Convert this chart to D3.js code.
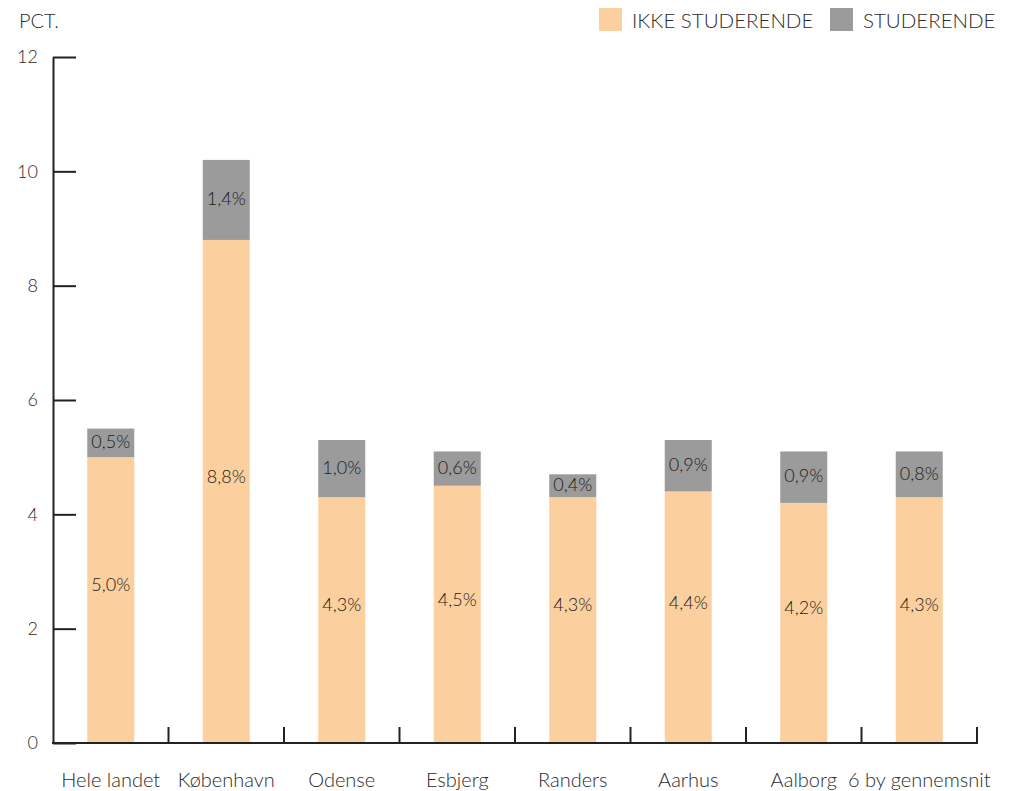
<!DOCTYPE html>
<html>
<head>
<meta charset="utf-8">
<script src="https://cdn.jsdelivr.net/npm/d3@7"></script>
<style>
  body { margin: 0; background: #fff; }
  text { font-family: Lato, "Open Sans", sans-serif; font-weight: 300; fill: #2b2b2b; }
</style>
</head>
<body>
<div id="main"></div>
<script>
var categories = ["Hele landet", "København", "Odense", "Esbjerg", "Randers", "Aarhus", "Aalborg", "6 by gennemsnit"];
var ikkeStuderende = [5.0, 8.8, 4.3, 4.5, 4.3, 4.4, 4.2, 4.3];
var studerende = [0.5, 1.4, 1.0, 0.6, 0.4, 0.9, 0.9, 0.8];
var yTicks = [0, 2, 4, 6, 8, 10, 12];
var seriesNames = ["IKKE STUDERENDE", "STUDERENDE"];
var colors = ["#fbd09e", "#9b9b9b"];

function fmt(v) { return v.toFixed(1).replace(".", ",") + "%"; }

var width = 1021, height = 791;
var svg = d3.select("#main").append("svg")
  .attr("width", width)
  .attr("height", height);//create canvas

var x = d3.scaleBand()
  .domain(categories)
  .range([53, 977])
  .padding(0);//band for each city
var barW = x.step() * 0.407;

var y = d3.scaleLinear()
  .domain([0, 12])
  .range([743, 57]);

// bars
var rows = categories.map(function(c, i) { return { cat: c, a: ikkeStuderende[i], b: studerende[i] }; });
var g = svg.append("g");
g.selectAll("rect.a").data(rows).enter().append("rect")
  .attr("class", "a")
  .attr("x", function(d) { return x(d.cat) + (x.step() - barW) / 2; })
  .attr("width", barW)
  .attr("y", function(d) { return y(d.a); })
  .attr("height", function(d) { return y(0) - y(d.a); })
  .attr("fill", colors[0]);
g.selectAll("rect.b").data(rows).enter().append("rect")
  .attr("class", "b")
  .attr("x", function(d) { return x(d.cat) + (x.step() - barW) / 2; })
  .attr("width", barW)
  .attr("y", function(d) { return y(d.a + d.b); })
  .attr("height", function(d) { return y(d.a) - y(d.a + d.b); })
  .attr("fill", colors[1]);

// value labels
g.selectAll("text.a").data(rows).enter().append("text")
  .attr("class", "a")
  .attr("x", function(d) { return x(d.cat) + x.step() / 2; })
  .attr("y", function(d) { return (y(0) + y(d.a)) / 2 - 15; })
  .attr("dy", "0.35em")
  .attr("text-anchor", "middle")
  .style("font-size", "18px")
  .style("fill", "#1a1a1a")
  .text(function(d) { return fmt(d.a); });
g.selectAll("text.b").data(rows).enter().append("text")
  .attr("class", "b")
  .attr("x", function(d) { return x(d.cat) + x.step() / 2; })
  .attr("y", function(d) { return (y(d.a) + y(d.a + d.b)) / 2 - 1; })
  .attr("dy", "0.35em")
  .attr("text-anchor", "middle")
  .style("font-size", "18px")
  .style("fill", "#1a1a1a")
  .text(function(d) { return fmt(d.b); });

// y axis
var yAxis = d3.axisLeft(y).tickValues(yTicks).tickSize(-23).tickSizeOuter(0).tickPadding(15);
var ya = svg.append("g").attr("transform", "translate(53,0)").call(yAxis);
ya.select(".domain").attr("stroke", "#222").attr("stroke-width", 2);
ya.selectAll(".tick line").attr("stroke", "#222").attr("stroke-width", 2);
ya.selectAll(".tick text").style("font-size", "18px").style("font-family", "Lato, sans-serif").attr("fill", "#2b2b2b");

// x axis line and boundary ticks
svg.append("line")
  .attr("x1", 52).attr("x2", 978)
  .attr("y1", y(0)).attr("y2", y(0))
  .attr("stroke", "#222").attr("stroke-width", 2);
svg.selectAll("line.xt").data(categories).enter().append("line")
  .attr("class", "xt")
  .attr("x1", function(d) { return x(d) + x.step(); })
  .attr("x2", function(d) { return x(d) + x.step(); })
  .attr("y1", y(0)).attr("y2", y(0) - 16)
  .attr("stroke", "#222").attr("stroke-width", 2);
svg.selectAll("text.cat").data(categories).enter().append("text")
  .attr("class", "cat")
  .attr("x", function(d) { return x(d) + x.step() / 2; })
  .attr("y", 787)
  .attr("text-anchor", "middle")
  .style("font-size", "20px")
  .text(function(d) { return d; });

// unit label
svg.append("text")
  .attr("x", 19).attr("y", 28)
  .style("font-size", "20px")
  .attr("fill", "#555")
  .text("PCT.");

// legend
var legendX = [599, 830];
var legend = svg.selectAll(".legend").data(seriesNames).enter().append("g")
  .attr("class", "legend")
  .attr("transform", function(d, i) { return "translate(" + legendX[i] + ",8)"; });
legend.append("rect")
  .attr("width", 23).attr("height", 23)
  .attr("fill", function(d, i) { return colors[i]; });
legend.append("text")
  .attr("x", 33).attr("y", 20)
  .style("font-size", "20.5px")
  .text(function(d) { return d; });
</script>
</body>
</html>
